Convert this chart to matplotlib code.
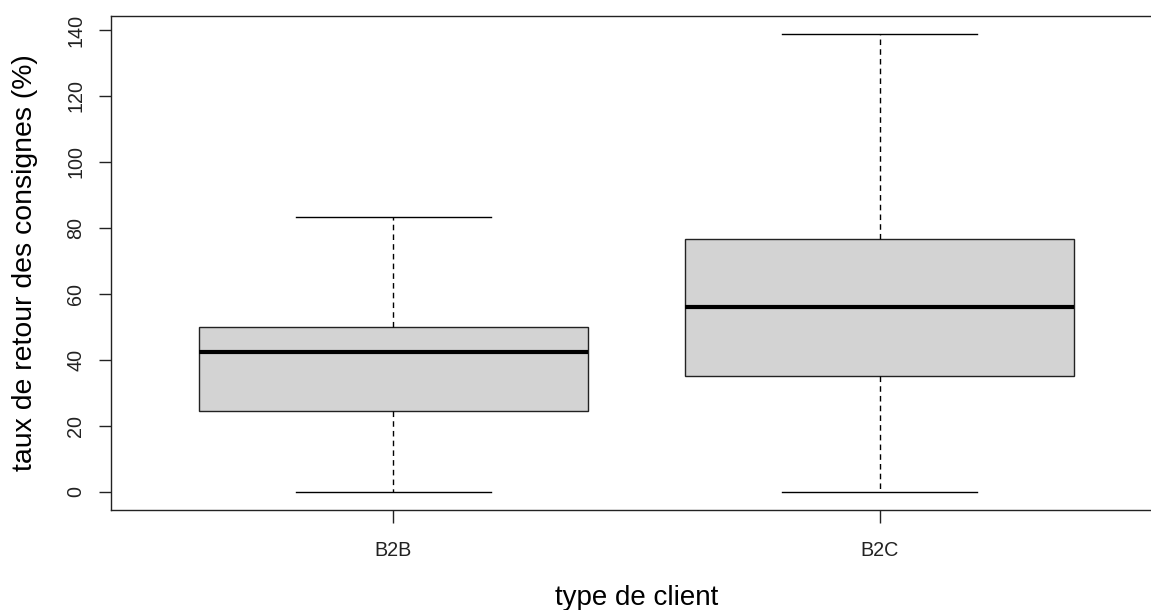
import matplotlib
matplotlib.use("Agg")
import matplotlib.pyplot as plt

plt.rcParams['font.family'] = ['Liberation Sans', 'DejaVu Sans']

# valeurs (taux de retour des consignes, %)
categories = ["B2B", "B2C"]
whisker_low = [0.0, 0.0]
q1 = [24.5, 35.2]
medians = [42.4, 56.1]
q3 = [50.0, 76.7]
whisker_high = [83.3, 138.8]
yticks = [0, 20, 40, 60, 80, 100, 120, 140]

stats = []
for i in range(len(categories)):
    stats.append({"label": categories[i], "whislo": whisker_low[i], "q1": q1[i],
                  "med": medians[i], "q3": q3[i], "whishi": whisker_high[i], "fliers": []})

fig = plt.figure(figsize=(11.51, 6.10), dpi=100)
# l'axe déborde à droite comme dans l'image d'origine (rognée)
ax = fig.add_axes([111 / 1151, (610 - 510.3) / 610, 1051 / 1151, 494.7 / 610])

ax.bxp(stats, positions=[1, 2], widths=0.8, patch_artist=True, showfliers=False,
       boxprops=dict(facecolor="#d3d3d3", edgecolor="#222222", linewidth=1.0),
       medianprops=dict(color="black", linewidth=3.0, solid_capstyle="butt"),
       whiskerprops=dict(color="black", linewidth=1.0, linestyle=(0, (4, 3))),
       capprops=dict(color="black", linewidth=1.0), capwidths=0.4)

ax.set_xlim(0.42, 2.58)
ax.set_ylim(-5.55, 144.35)
ax.set_yticks(yticks)
ax.set_yticklabels([str(v) for v in yticks], rotation=90, va="center")
ax.set_xticks([1, 2])
ax.set_xticklabels(categories)

for s in ax.spines.values():
    s.set_linewidth(1.0)
    s.set_color("#222222")
ax.tick_params(axis="both", length=9, width=1.0, color="#222222", labelsize=14.2, labelcolor="#222222")
ax.tick_params(axis="x", pad=13)
ax.tick_params(axis="y", pad=9.5)

ax.set_ylabel("taux de retour des consignes (%)", fontsize=20.4, labelpad=20.5)
ax.set_xlabel("type de client", fontsize=20, labelpad=18)

fig.savefig("out.png", dpi=100)
